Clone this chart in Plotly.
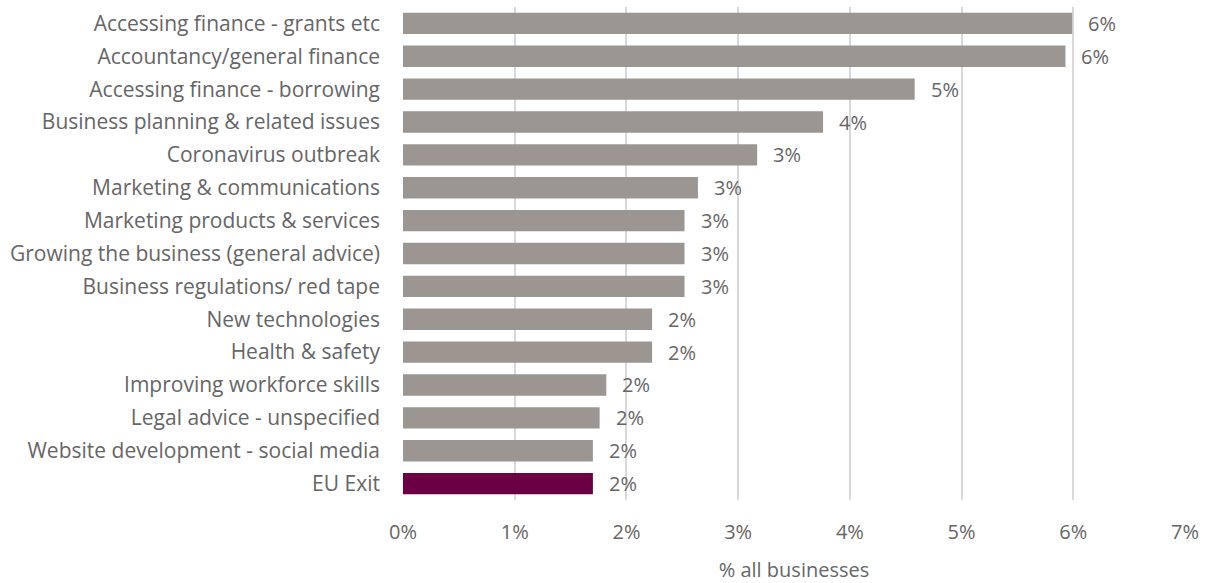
import plotly.graph_objects as go

categories = [
    "Accessing finance - grants etc",
    "Accountancy/general finance",
    "Accessing finance - borrowing",
    "Business planning & related issues",
    "Coronavirus outbreak",
    "Marketing & communications",
    "Marketing products & services",
    "Growing the business (general advice)",
    "Business regulations/ red tape",
    "New technologies",
    "Health & safety",
    "Improving workforce skills",
    "Legal advice - unspecified",
    "Website development - social media",
    "EU Exit",
]
values = [5.99, 5.93, 4.58, 3.76, 3.17, 2.64, 2.52, 2.52, 2.52, 2.23, 2.23, 1.82, 1.76, 1.70, 1.70]
labels = ["6%", "6%", "5%", "4%", "3%", "3%", "3%", "3%", "3%", "2%", "2%", "2%", "2%", "2%", "2%"]
highlight = "EU Exit"

GREY = "#9B9692"
PURPLE = "#6B0045"
TEXT = "#666666"
FONT = "Open Sans"
FS = 20

colors = [PURPLE if c == highlight else GREY for c in categories]

fig = go.Figure()
fig.add_trace(go.Bar(
    x=values, y=categories, orientation="h",
    marker=dict(color=colors, line=dict(width=0)),
    hoverinfo="skip",
))

for c, v, t in zip(categories, values, labels):
    fig.add_annotation(x=v, y=c, text=t, showarrow=False, xanchor="left",
                       xshift=14, font=dict(family=FONT, size=FS, color=TEXT))

fig.update_layout(
    width=1208, height=583,
    margin=dict(l=403, r=23, t=7, b=83),
    paper_bgcolor="white", plot_bgcolor="white",
    bargap=0.35,
    showlegend=False,
    font=dict(family=FONT, size=FS, color=TEXT),
    xaxis=dict(
        range=[0, 7], tickvals=[0, 1, 2, 3, 4, 5, 6, 7],
        ticktext=["0%", "1%", "2%", "3%", "4%", "5%", "6%", "7%"],
        showgrid=True, gridcolor="#D9D9D9", gridwidth=1.5,
        zeroline=False, showline=False, ticks="",
        ticklabelstandoff=18,
        automargin=False,
        tickfont=dict(family=FONT, size=FS, color=TEXT),
        title=dict(text="% all businesses", font=dict(family=FONT, size=FS, color=TEXT), standoff=20),
        fixedrange=True,
    ),
    yaxis=dict(
        categoryorder="array", categoryarray=categories[::-1],
        autorange=False, range=[-0.5, len(categories) - 0.5],
        showgrid=False, zeroline=False, showline=False, ticks="",
        ticklabelstandoff=22,
        automargin=False,
        tickfont=dict(family=FONT, size=21, color=TEXT),
        fixedrange=True,
    ),
)

fig.write_html("out.html")
